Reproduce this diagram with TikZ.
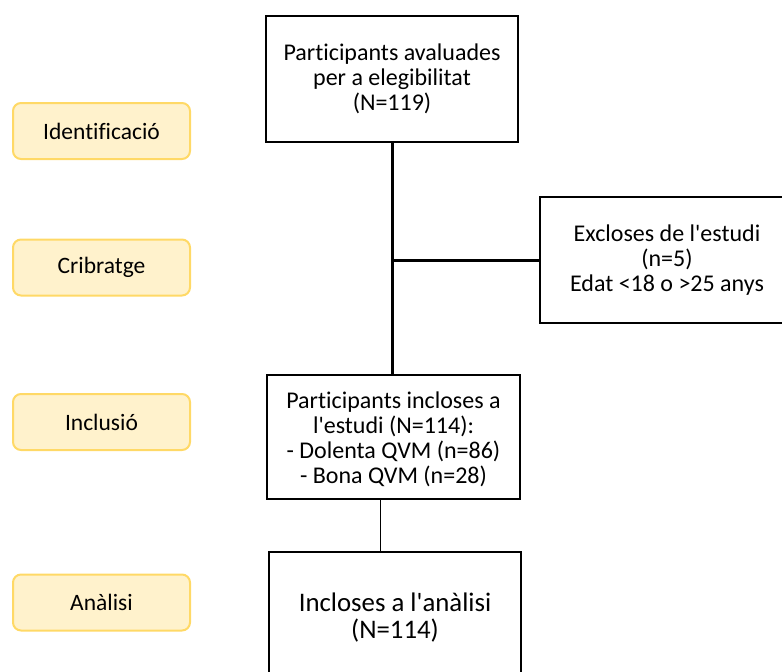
\documentclass[tikz,border=0pt]{standalone}
\usepackage{fontspec}
\setmainfont{Carlito}[Ligatures=NoCommon]
\usetikzlibrary{positioning}
\definecolor{stagefill}{RGB}{255,242,204}
\definecolor{stageline}{RGB}{255,217,102}
\newcommand{\ap}{\textquotesingle}

\begin{document}
\begin{tikzpicture}[x=1pt, y=-1pt,
      stage/.style={rectangle, rounded corners=8pt, draw=stageline, line width=2pt,
                    fill=stagefill, minimum width=177pt, minimum height=56pt,
                    font=\fontsize{23.5}{25}\selectfont},
      flowbox/.style={rectangle, draw=black, line width=2.6pt, align=center,
                      inner sep=0pt, font=\fontsize{24}{25}\selectfont},
      link/.style={line width=3pt},
      thinlink/.style={line width=1.6pt}]
    \useasboundingbox (0,0) rectangle (782,672);
    \begin{scope}
    \clip (0,0) rectangle (782,672);
    % stage labels on the left
    \foreach \yy/\name/\txt in {131/ident/Identificació, 267.5/crib/Cribratge,
                                422/inclu/Inclusió, 602.5/anali/Anàlisi}{
      \node[stage] (\name) at (101.5,\yy) {\txt};
    }
    % flow boxes
    \node[flowbox, minimum width=252pt, minimum height=126pt] (elig) at (392,79)
      {Participants avaluades\\per a elegibilitat\\(N=119)};
    \node[flowbox, minimum width=254pt, minimum height=126pt] (excl) at (667,260)
      {Excloses de l\ap estudi\\(n=5)\\Edat <18 o >25 anys};
    \node[flowbox, minimum width=253pt, minimum height=124pt] (incl) at (393.5,437)
      {\rule{0pt}{22pt}Participants incloses a\\l\ap estudi (N=114):\\- Dolenta QVM (n=86)\\- Bona QVM (n=28)};
    \node[flowbox, minimum width=252pt, minimum height=132pt,
          font=\fontsize{26.8}{27}\selectfont] (anal) at (395,618)
      {Incloses a l\ap anàlisi\\(N=114)};
    % connectors
    \draw[link] (elig.south) -- (elig.south |- incl.north);
    \draw[link] (elig.south |- excl.west) -- (excl.west);
    \draw[thinlink] ([xshift=-13pt]incl.south) -- ([xshift=-13pt]incl.south |- anal.north);
    \end{scope}
\end{tikzpicture}
\end{document}
